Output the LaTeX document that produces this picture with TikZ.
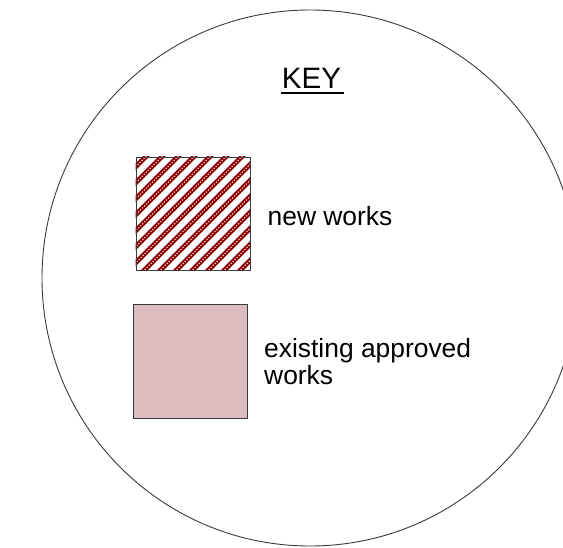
\documentclass[tikz,border=0pt]{standalone}
\usepackage{fontspec}
\setmainfont{Liberation Sans}
\usepackage{xcolor}
\definecolor{HatchRed}{HTML}{8E0000}
\definecolor{ExistPink}{HTML}{DCBDBF}
\definecolor{EdgeGray}{HTML}{3A3A3A}
\usetikzlibrary{positioning, calc}
\tikzset{
  swatch/.style={
    rectangle, draw=EdgeGray, line width=0.9pt,
    minimum width=#1, minimum height=#1, inner sep=0pt
  },
  swatch/.default=114pt,
  label/.style={inner sep=0pt, align=left,
    font=\fontsize{26.4}{27.7}\selectfont},
  hatch/.style={HatchRed, line width=4.8pt},
  hatchDots/.style={white, line width=0.9pt, dash pattern=on 1.3pt off 1.5pt},
}

\begin{document}
\begin{tikzpicture}[x=1pt, y=1pt]
\useasboundingbox (0,0) rectangle (563,547);

% Outer circle of the key
\node[circle, draw=EdgeGray, line width=0.9pt, minimum size=536pt, inner sep=0pt] (rim) at (310,269) {};

% Title
\node[inner sep=0pt, anchor=base, font=\fontsize{29.5}{32}\selectfont] (key) at (311.5,458.7) {KEY};
\draw[line width=2.2pt] ([xshift=-0.5pt, yshift=-5pt]key.base west) -- ([xshift=3pt, yshift=-5pt]key.base east);

% New works swatch (hatched)
\node[swatch, minimum height=113pt] (new) at (193,333.5) {};
\begin{scope}
  \clip (new.south west) rectangle (new.north east);
  \foreach \c in {-120,-104,...,120} {
    \draw[hatch] ($(new.center)+(\c,0)+(-80,-80)$) -- ($(new.center)+(\c,0)+(80,80)$);
    \draw[hatchDots] ($(new.center)+(\c,0)+(-80,-80)$) -- ($(new.center)+(\c,0)+(80,80)$);
  }
\end{scope}
\node[swatch, minimum height=113pt] at (new) {};
\node[label, anchor=base west] (newLbl) at (267.5,321.3) {new works};

% Existing approved works swatch
\node[swatch, fill=ExistPink] (old) at (190,186) {};
\node[label, anchor=base west] (oldLbl) at (264,162) {existing approved\\works};

\end{tikzpicture}
\end{document}
